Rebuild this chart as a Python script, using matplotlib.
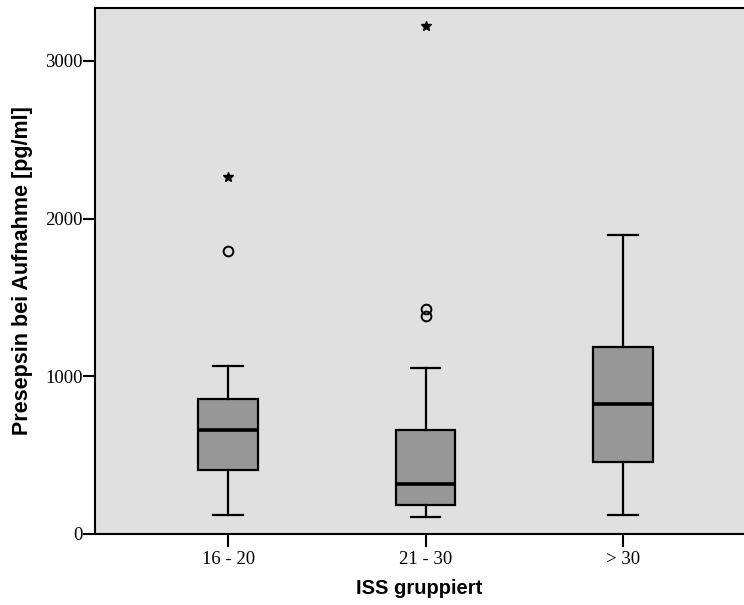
import numpy as np
import matplotlib.pyplot as plt

# Presepsin bei Aufnahme nach ISS-Gruppe (Boxplot-Kennwerte, pg/ml)
gruppen = ['16 - 20', '21 - 30', '> 30']
whisker_unten = [120, 108, 120]
q1 = [406, 184, 457]
median = [659, 317, 824]
q3 = [856, 659, 1186]
whisker_oben = [1065, 1053, 1896]
ausreisser = [[1795], [1427, 1382], []]
extremwerte = [[2264], [3221], []]

stats = []
for i in range(len(gruppen)):
    stats.append(dict(label=gruppen[i], whislo=whisker_unten[i], q1=q1[i], med=median[i],
                      q3=q3[i], whishi=whisker_oben[i], fliers=ausreisser[i]))

fig = plt.figure(figsize=(7.44, 6.05), dpi=100)
ax = fig.add_axes([0.1277, 0.1174, 0.8723, 0.8694])
ax.set_facecolor('#E0E0E0')

pos = np.arange(len(gruppen))
ax.bxp(stats, positions=pos, widths=0.30, patch_artist=True,
       boxprops=dict(facecolor='#979797', edgecolor='black', linewidth=1.6),
       medianprops=dict(color='black', linewidth=2.6),
       whiskerprops=dict(color='black', linewidth=1.6),
       capprops=dict(color='black', linewidth=1.6),
       capwidths=0.15,
       flierprops=dict(marker='o', markersize=7, markerfacecolor='none',
                       markeredgecolor='black', markeredgewidth=1.4))

for i, werte in enumerate(extremwerte):
    ax.plot([pos[i]] * len(werte), werte, linestyle='none', marker='*',
            markersize=7, color='black')

ax.set_xlim(-0.674, 2.613)
ax.set_ylim(0, 3336)
ax.set_yticks([0, 1000, 2000, 3000])
ax.set_xticks(pos)
ax.set_xticklabels(gruppen)

for lab in ax.get_xticklabels() + ax.get_yticklabels():
    lab.set_family('Liberation Serif')
    lab.set_fontsize(13.5)

ax.tick_params(axis='y', length=9, width=1.5, pad=0)
ax.tick_params(axis='x', length=9, width=1.5, pad=3)
ax.spines['right'].set_visible(False)
for s in ['left', 'bottom', 'top']:
    ax.spines[s].set_linewidth(1.5)

ax.set_xlabel('ISS gruppiert', family='Liberation Sans', fontweight='bold',
              fontsize=14.5, labelpad=8)
ax.set_ylabel('Presepsin bei Aufnahme [pg/ml]', family='Liberation Sans',
              fontweight='bold', fontsize=15.5, labelpad=9)

fig.savefig('out.png', dpi=100)
